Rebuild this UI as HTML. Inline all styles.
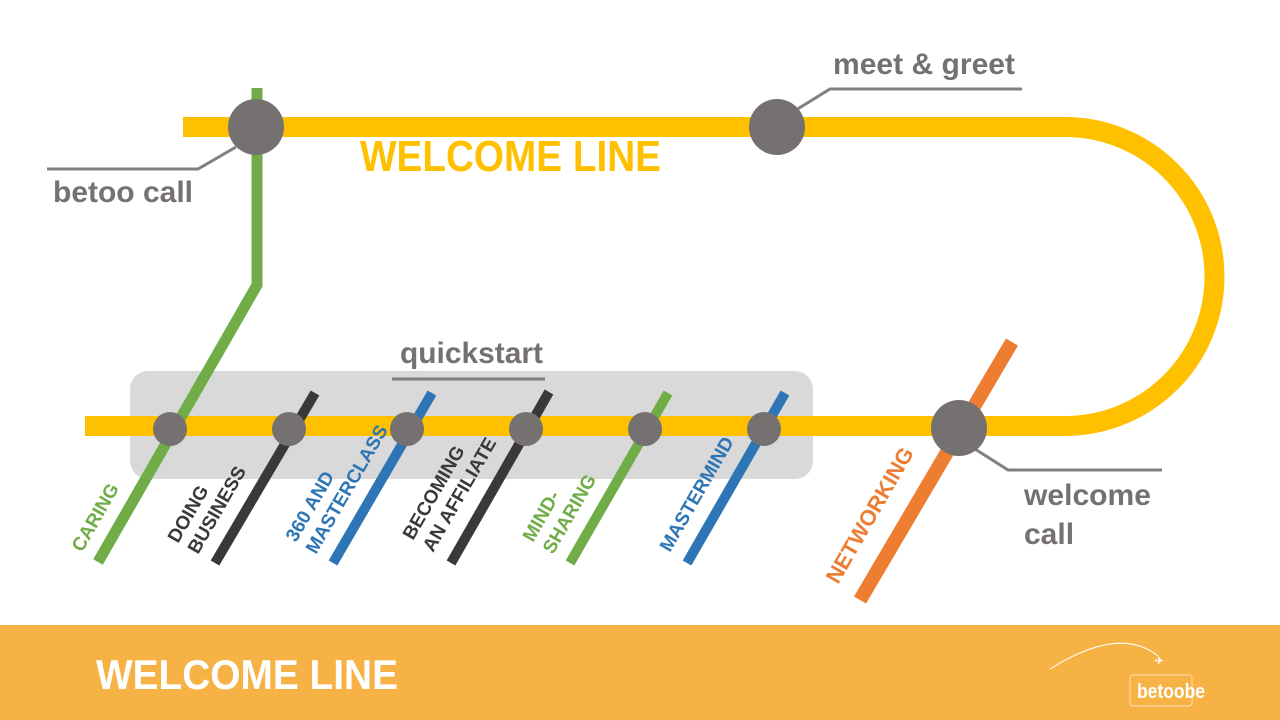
<!DOCTYPE html>
<html><head><meta charset="utf-8"><style>
html,body{margin:0;padding:0;background:#fff;}
svg{display:block;}
text{font-family:"Liberation Sans Narrow","Liberation Sans",sans-serif;font-weight:bold;}
</style></head><body>
<svg width="1280" height="720" viewBox="0 0 1280 720" xmlns="http://www.w3.org/2000/svg">
<rect x="130" y="371" width="683" height="108" rx="18" fill="#d9d9d9"/>
<!-- yellow line -->
<path d="M183 127 H1065 A149.5 149.5 0 0 1 1065 426 H85" fill="none" stroke="#FFC000" stroke-width="20"/>
<!-- green caring line -->
<polyline points="257,88 257,285 98,562" fill="none" stroke="#70AD47" stroke-width="11"/>
<!-- quickstart branches -->
<line x1="315" y1="393" x2="215" y2="563" stroke="#3a3938" stroke-width="10"/>
<line x1="432" y1="393" x2="333" y2="563" stroke="#2E75B6" stroke-width="10"/>
<line x1="549" y1="392" x2="451" y2="563" stroke="#3a3938" stroke-width="10"/>
<line x1="668" y1="393" x2="570" y2="563" stroke="#70AD47" stroke-width="10"/>
<line x1="785" y1="393" x2="687" y2="563" stroke="#2E75B6" stroke-width="10"/>
<line x1="1012" y1="342" x2="860" y2="600" stroke="#ED7D31" stroke-width="14"/>
<!-- connectors -->
<g stroke="#808080" stroke-width="3" fill="none">
<polyline points="236,147 198,169 47,169"/>
<polyline points="796,110 830,89 1022,89"/>
<polyline points="975,449 1008,470 1162,470"/>
<line x1="392" y1="379" x2="545" y2="379"/>
</g>
<!-- nodes -->
<g fill="#767171">
<circle cx="256" cy="127" r="28"/>
<circle cx="777" cy="127" r="28"/>
<circle cx="959" cy="428" r="28"/>
<circle cx="170" cy="429" r="17"/>
<circle cx="289" cy="429" r="17"/>
<circle cx="407" cy="429" r="17"/>
<circle cx="526" cy="429" r="17"/>
<circle cx="645" cy="429" r="17"/>
<circle cx="764" cy="429" r="17"/>
</g>
<!-- labels -->
<text x="360" y="171" font-size="44" fill="#FFC000" textLength="301" lengthAdjust="spacingAndGlyphs">WELCOME LINE</text>
<g fill="#767171" font-size="30">
<text x="53" y="202" textLength="140" lengthAdjust="spacingAndGlyphs">betoo call</text>
<text x="833" y="74" textLength="182" lengthAdjust="spacingAndGlyphs">meet &amp; greet</text>
<text x="400" y="363" textLength="143" lengthAdjust="spacingAndGlyphs">quickstart</text>
<text x="1024" y="505" textLength="127" lengthAdjust="spacingAndGlyphs">welcome</text>
<text x="1024" y="544">call</text>
</g>
<g font-size="19">
<text transform="translate(82,553) rotate(-60)" fill="#70AD47">CARING</text>
<text transform="translate(178,544) rotate(-60)" fill="#3a3938">DOING</text>
<text transform="translate(198,555) rotate(-60)" fill="#3a3938">BUSINESS</text>
<text transform="translate(296,543) rotate(-60)" fill="#2E75B6">360 AND</text>
<text transform="translate(316,555) rotate(-60)" fill="#2E75B6">MASTERCLASS</text>
<text transform="translate(413,541) rotate(-60)" fill="#3a3938">BECOMING</text>
<text transform="translate(433,553) rotate(-60)" fill="#3a3938">AN AFFILIATE</text>
<text transform="translate(533,543) rotate(-60)" fill="#70AD47">MIND-</text>
<text transform="translate(553,555) rotate(-60)" fill="#70AD47">SHARING</text>
<text transform="translate(670,553) rotate(-60)" fill="#2E75B6">MASTERMIND</text>
<text transform="translate(838,585) rotate(-60)" fill="#ED7D31" font-size="22">NETWORKING</text>
</g>
<!-- footer -->
<rect x="0" y="625" width="1280" height="95" fill="#F6B244"/>
<text x="96" y="689" font-size="42" fill="#fff" textLength="302" lengthAdjust="spacingAndGlyphs">WELCOME LINE</text>
<path d="M1050 669 Q1120 625 1158 656" fill="none" stroke="#fff" stroke-width="1"/>
<text x="1155" y="664" font-size="10" fill="#fff">✈</text>
<rect x="1130" y="675" width="62" height="31" rx="3" fill="none" stroke="#fde0b0" stroke-width="1"/>
<text x="1137" y="698" font-size="20" fill="#fff" font-weight="normal" style="font-family:'Liberation Sans',sans-serif" textLength="68" lengthAdjust="spacingAndGlyphs">betoobe</text>
</svg>
</body></html>
